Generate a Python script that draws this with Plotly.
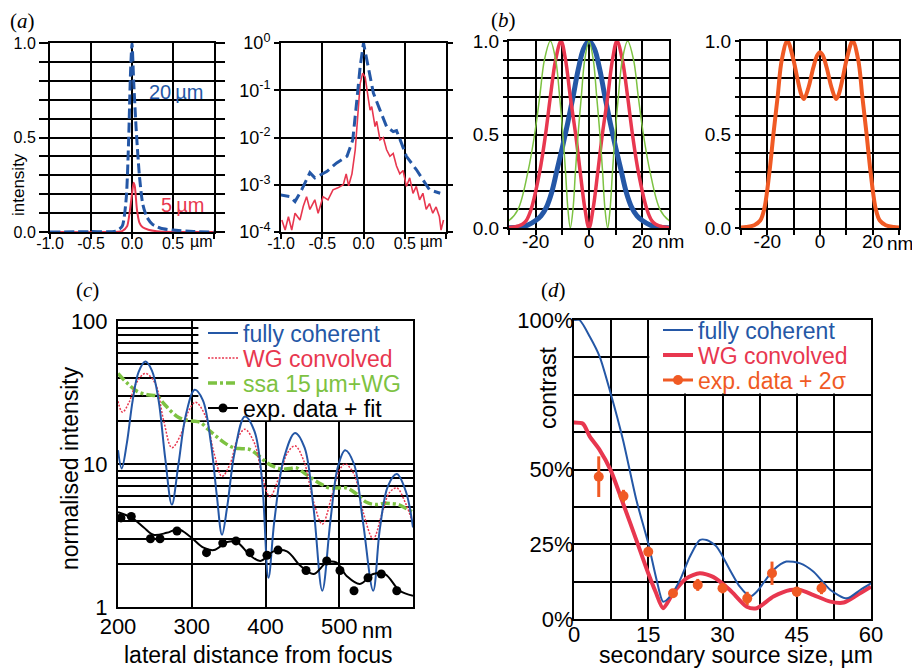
import plotly.graph_objects as go

# ---------------- data ----------------
# (a) left: linear focal profiles, x in µm
a_x_20 = [-1.0, -0.5, -0.2, -0.12, -0.07, -0.04, -0.02, 0.0, 0.02, 0.05, 0.09, 0.13, 0.18, 0.25, 0.35, 0.5, 0.75, 1.0]
a_y_20 = [0.0, 0.002, 0.005, 0.03, 0.18, 0.5, 0.82, 1.0, 0.8, 0.55, 0.3, 0.15, 0.08, 0.04, 0.02, 0.01, 0.003, 0.0]
a_x_5 = [-1.0, -0.3, -0.12, -0.06, -0.03, 0.0, 0.02, 0.035, 0.06, 0.09, 0.13, 0.2, 0.3, 0.5, 1.0]
a_y_5 = [0.0, 0.0, 0.005, 0.03, 0.1, 0.2, 0.26, 0.24, 0.12, 0.05, 0.025, 0.012, 0.004, 0.0, 0.0]

# (a) right: same profiles on log scale
al_x_20 = [-1.03, -0.89, -0.83, -0.75, -0.65, -0.59, -0.446, -0.325, -0.2, -0.13, -0.08, -0.04, 0.0,
           0.06, 0.12, 0.2, 0.28, 0.36, 0.4, 0.46, 0.52, 0.64, 0.72, 0.8, 0.93]
al_y_20 = [6.2e-4, 5.6e-4, 4.4e-4, 7.8e-4, 1.8e-3, 1.4e-3, 1.9e-3, 2.9e-3, 4.0e-3, 8.9e-3, 0.063, 0.32, 1.0,
           0.32, 0.087, 0.038, 0.017, 0.0133, 0.014, 7.6e-3, 4.0e-3, 2.1e-3, 1.3e-3, 7.8e-4, 6.6e-4]
al_x_5 = [-0.99, -0.95, -0.91, -0.87, -0.83, -0.77, -0.73, -0.69, -0.65, -0.59, -0.55, -0.49, -0.43, -0.37,
          -0.31, -0.245, -0.21, -0.18, -0.14, -0.10, -0.07, -0.04, -0.01, 0.02, 0.06, 0.08, 0.10, 0.14,
          0.16, 0.20, 0.24, 0.28, 0.32, 0.36, 0.40, 0.44, 0.48, 0.52, 0.56, 0.60, 0.64, 0.68, 0.72,
          0.76, 0.80, 0.84, 0.88, 0.92, 0.94, 0.97]
al_y_5 = [1.8e-4, 1.1e-4, 2.1e-4, 1.1e-4, 2.5e-4, 1.8e-4, 3.5e-4, 5.6e-4, 3.0e-4, 4.8e-4, 2.5e-4, 5.6e-4,
          4.8e-4, 7.8e-4, 8.6e-4, 1.0e-3, 1.7e-3, 9.5e-4, 1.7e-3, 5.5e-3, 0.028, 0.14, 0.23, 0.19, 0.063,
          0.038, 0.045, 0.017, 0.022, 8.9e-3, 0.010, 5.5e-3, 4.0e-3, 4.6e-3, 2.5e-3, 1.7e-3, 2.0e-3,
          9.2e-4, 1.4e-3, 6.6e-4, 9.2e-4, 4.8e-4, 6.6e-4, 3.0e-4, 4.0e-4, 2.5e-4, 3.4e-4, 2.1e-4,
          1.1e-4, 1.8e-4]

# (b) left: mode profiles, x in nm
b_x_blue = [-35, -26, -23, -20, -18, -16, -14, -12, -10, -8, -6, -4, -2, 0,
            2, 4, 6, 8, 10, 12, 14, 16, 18, 20, 23, 26, 35]
b_y_blue = [0, 0.005, 0.015, 0.04, 0.065, 0.11, 0.19, 0.31, 0.43, 0.56, 0.7, 0.85, 0.96, 1.0,
            0.96, 0.85, 0.7, 0.56, 0.43, 0.31, 0.19, 0.11, 0.065, 0.04, 0.015, 0.005, 0]
b_x_red = [-35, -28, -25, -23.5, -21.7, -18.5, -16.3, -14.5, -12.5, -10.5, -8.8, -7, -5, -3.3, -1.5, 0,
           1.5, 3.3, 5, 7, 8.8, 10.5, 12.5, 14.5, 16.3, 18.5, 21.7, 23.5, 25, 28, 35]
b_y_red = [0, 0.005, 0.02, 0.04, 0.1, 0.3, 0.5, 0.7, 0.9, 1.0, 0.9, 0.7, 0.5, 0.3, 0.1, 0.0,
           0.1, 0.3, 0.5, 0.7, 0.9, 1.0, 0.9, 0.7, 0.5, 0.3, 0.1, 0.04, 0.02, 0.005, 0]
b_x_green = [-35, -30, -26.6, -22.9, -20.4, -18.5, -16.7, -14.5, -12.5, -11, -9.8, -8.8, -7.9, -7.0,
             -6, -5.1, -4.1, -2.9, -1.6, 0, 1.6, 2.9, 4.1, 5.1, 6, 7.0, 7.9, 8.8, 9.8, 11, 12.5, 14.5,
             16.7, 18.5, 20.4, 22.9, 26.6, 30, 35]
b_y_green = [0.01, 0.04, 0.1, 0.3, 0.5, 0.7, 0.9, 1.0, 0.9, 0.7, 0.5, 0.3, 0.1, 0.0,
             0.1, 0.3, 0.5, 0.7, 0.9, 1.0, 0.9, 0.7, 0.5, 0.3, 0.1, 0.0, 0.1, 0.3, 0.5, 0.7, 0.9, 1.0,
             0.9, 0.7, 0.5, 0.3, 0.1, 0.04, 0.01]
# (b) right: superposition
b_x_orange = [-35, -28, -25, -22.7, -21.2, -19.2, -17.7, -16.1, -14.5, -12.4, -10.1, -8.6, -7, -6.1, -4.4,
              -2.5, -1, 0, 1, 2.5, 4.4, 6.1, 7, 8.6, 10.1, 12.4, 14.5, 16.1, 17.7, 19.2, 21.2, 22.7, 25, 28, 35]
b_y_orange = [0, 0.005, 0.015, 0.04, 0.1, 0.3, 0.5, 0.7, 0.9, 1.0, 0.9, 0.8, 0.71, 0.69, 0.75,
              0.86, 0.925, 0.94, 0.925, 0.86, 0.75, 0.69, 0.71, 0.8, 0.9, 1.0, 0.9, 0.7, 0.5, 0.3, 0.1,
              0.04, 0.015, 0.005, 0]

# (c) far-field fringes, x in nm
c_x_coh = [200, 205, 212, 220, 228, 237, 246, 255, 264, 273, 282, 292, 304, 315, 326, 334, 341, 348, 358, 372,
           385, 395, 404, 412, 425, 440, 453, 465, 477, 488, 498, 508, 520, 532, 546, 555, 566, 578, 590, 600]
c_y_coh = [12.5, 9.3, 14, 28, 44, 52, 45, 28, 11, 5.2, 10, 22, 33, 28, 14, 6, 3.2, 5, 12, 21.5,
           17, 8, 1.6, 4, 11, 16.5, 13, 5, 1.3, 4, 9.5, 12.5, 10, 4, 1.3, 3.5, 7, 8.5, 6.5, 3.6]
c_x_wg = [200, 206, 215, 225, 237, 250, 262, 273, 285, 295, 305, 318, 330, 341, 352, 362, 372, 385, 396, 406,
          418, 430, 440, 452, 465, 477, 490, 500, 508, 520, 533, 546, 558, 568, 578, 590, 600]
c_y_wg = [27.5, 23, 27, 37, 43, 37, 20, 13, 16, 23, 27, 22, 12, 8.2, 10, 15, 17.5, 14, 8, 5.9,
          8, 12, 13.4, 10.5, 5.5, 3.8, 6, 9, 10, 8.5, 4.5, 3.0, 4.5, 6.3, 6.8, 5.3, 3.8]
c_x_ssa = [200, 212, 226, 240, 253, 262, 271, 280, 289, 300, 311, 322, 334, 345, 357, 368, 379, 390, 402, 413,
           424, 433, 442, 453, 465, 476, 487, 498, 510, 523, 537, 550, 560, 568, 580, 590, 600]
c_y_ssa = [43, 37, 32.2, 30.5, 29.8, 26.5, 23.6, 21.5, 20.5, 20, 19.6, 17.5, 15.5, 14, 13, 12.8, 12.6, 11.5,
           10.2, 9.5, 9.2, 9.3, 9.4, 8.6, 7.8, 7.2, 6.8, 6.8, 6.8, 6.2, 5.4, 5.2, 5.3, 5.3, 5.2, 4.9, 4.6]
c_x_exp = [204, 218, 244, 257, 280, 320, 342, 360, 379, 402, 417, 455, 483, 501, 520, 539, 557, 578]
c_y_exp = [4.2, 4.3, 3.0, 3.0, 3.4, 2.4, 2.8, 2.9, 2.4, 2.3, 2.5, 1.8, 2.1, 1.8, 1.3, 1.6, 1.7, 1.3]
c_x_fit = [200, 219, 235, 248, 266, 282, 298, 316, 330, 348, 361, 379, 393, 411, 429, 447, 465, 483, 496, 510,
           528, 546, 562, 582, 600]
c_y_fit = [4.6, 4.2, 3.6, 3.2, 3.3, 3.5, 3.1, 2.6, 2.5, 2.85, 2.85, 2.3, 2.1, 2.45, 2.45, 1.95, 1.7, 2.05, 2.05,
           1.65, 1.45, 1.7, 1.7, 1.3, 1.2]
c_xticks = [200, 300, 400, 500]
c_xlabels = ["200", "300", "400", "500"]
c_yticks = [1, 2, 3, 4, 5, 6, 7, 8, 9, 10, 20, 30, 40, 50, 60, 70, 80, 90, 100]
c_ylabels = ["1", "", "", "", "", "", "", "", "", "10", "", "", "", "", "", "", "", "", "100"]

# (d) contrast vs secondary source size (µm), in %
d_x_coh = [0, 1.1, 3.2, 5.2, 7.4, 9.9, 12.6, 15, 16.7, 18, 19.4, 21.4, 23.4, 25.4, 26.8, 28.8, 31.5, 33.5,
           35.6, 36.9, 40.3, 42.9, 45.7, 48.4, 51.8, 55.1, 57.8, 60]
d_y_coh = [100, 100, 94.4, 87.7, 75.5, 59.9, 39.8, 25.3, 13, 5.8, 7.5, 13, 20.8, 26.4, 26.4, 24.2, 16.4, 10.8,
           7.5, 9.1, 16.4, 19.2, 18.6, 15.8, 9.7, 6.9, 9.7, 11.9]
d_x_wg = [0, 1.8, 3.2, 5.2, 7.4, 9.9, 12.6, 15, 16.5, 18, 20, 22.7, 25.4, 28.1, 31.5, 34.9, 36.9, 40.3, 43.7,
          45.7, 48.4, 51.8, 54.5, 57.2, 60]
d_y_wg = [65.7, 65.3, 61, 56.5, 49.8, 38.7, 26.4, 15.3, 9, 3.6, 8.6, 13.6, 15.3, 14.1, 9.7, 4.1, 3.6, 7.5, 9.7,
          9.7, 8, 5.8, 5.5, 8, 10.8]
d_x_exp = [5, 10, 15, 20, 25, 30, 35, 40, 45, 50]
d_y_exp = [47.6, 41.1, 22.5, 8.6, 11.4, 10.3, 6.9, 15.3, 9.1, 10.3]
d_err = [6.8, 2.1, 1.7, 1.4, 2.0, 1.7, 2.2, 3.9, 1.7, 2.0]
d_yticks = [0, 12.5, 25, 37.5, 50, 62.5, 75, 87.5, 100]
d_ylabels = ["0%", "", "25%", "", "50%", "", "", "", "100%"]
d_xticks = [0, 7.5, 15, 22.5, 30, 37.5, 45, 52.5, 60]
d_xlabels = ["0", "", "15", "", "30", "", "45", "", "60"]

lin_ticks = [0, 0.1, 0.2, 0.3, 0.4, 0.5, 0.6, 0.7, 0.8, 0.9, 1.0]
lin_labels = ["0.0", "", "", "", "", "0.5", "", "", "", "", "1.0"]
a_xticks = [-1, -0.5, 0, 0.5, 1]
a_xlabels = ["-1.0", "-0.5", "0.0", "0.5", ""]
b_xticks = [-30, -20, -10, 0, 10, 20, 30]
b_xlabels = ["", "-20", "", "0", "", "20", ""]

# ---------------- styling ----------------
BLUE = "#2457a6"
RED = "#e8374f"
GREEN = "#7dc242"
ORANGE = "#f05a24"
FONT = "Liberation Sans, Arial, sans-serif"
SERIF = "Liberation Serif, Times New Roman, serif"
OFF = 8                      # page body margin of the html page
W, H = 920 - OFF, 668 - OFF  # figure size so it fits the window

# white panels behind the legends (x-range, y-range in axis units)
C_LEG_BOX = ([309, 600], [20.2, 100])
D_LEG_BOX = ([15.2, 60], [75.4, 100])


def xd(a, b):
    return [(a - OFF) / W, (b - OFF) / W]


def yd(top, bottom):
    return [1 - (bottom - OFF) / H, 1 - (top - OFF) / H]


def white_box(box, xa, ya):
    (x0, x1), (y0, y1) = box
    return go.Scatter(x=[x0, x1, x1, x0, x0], y=[y0, y0, y1, y1, y0], mode="lines", fill="toself",
                      fillcolor="white", line=dict(width=0, color="white"), xaxis=xa, yaxis=ya,
                      showlegend=False, hoverinfo="skip")


fig = go.Figure()

# (a) left
fig.add_trace(go.Scatter(x=a_x_5, y=a_y_5, mode="lines", line=dict(color=RED, width=2, shape="spline", smoothing=0.6),
                         xaxis="x", yaxis="y", showlegend=False))
fig.add_trace(go.Scatter(x=a_x_20, y=a_y_20, mode="lines",
                         line=dict(color=BLUE, width=3, dash="10px,4px", shape="spline", smoothing=0.6),
                         xaxis="x", yaxis="y", showlegend=False))
# (a) right
fig.add_trace(go.Scatter(x=al_x_5, y=al_y_5, mode="lines", line=dict(color=RED, width=1.6),
                         xaxis="x2", yaxis="y2", showlegend=False))
fig.add_trace(go.Scatter(x=al_x_20, y=al_y_20, mode="lines", line=dict(color=BLUE, width=3, dash="11px,5px"),
                         xaxis="x2", yaxis="y2", showlegend=False))
# (b) left
fig.add_trace(go.Scatter(x=b_x_blue, y=b_y_blue, mode="lines", line=dict(color=BLUE, width=5, shape="spline"),
                         xaxis="x3", yaxis="y3", showlegend=False))
fig.add_trace(go.Scatter(x=b_x_red, y=b_y_red, mode="lines", line=dict(color=RED, width=3.5, shape="spline"),
                         xaxis="x3", yaxis="y3", showlegend=False))
fig.add_trace(go.Scatter(x=b_x_green, y=b_y_green, mode="lines", line=dict(color=GREEN, width=1.5, shape="spline"),
                         xaxis="x3", yaxis="y3", showlegend=False))
# (b) right
fig.add_trace(go.Scatter(x=b_x_orange, y=b_y_orange, mode="lines", line=dict(color=ORANGE, width=4, shape="spline"),
                         xaxis="x4", yaxis="y4", showlegend=False))

# (c)
fig.add_trace(white_box(C_LEG_BOX, "x5", "y5"))
fig.add_trace(go.Scatter(x=c_x_ssa, y=c_y_ssa, mode="lines", name="ssa 15\u2009µm+WG", legend="legend3",
                         line=dict(color=GREEN, width=3.5, dash="9px,3px,3px,3px", shape="spline"),
                         xaxis="x5", yaxis="y5"))
fig.add_trace(go.Scatter(x=c_x_wg, y=c_y_wg, mode="lines", name="WG convolved", legend="legend2",
                         line=dict(color=RED, width=1.5, dash="2px,1.5px", shape="spline"),
                         xaxis="x5", yaxis="y5"))
fig.add_trace(go.Scatter(x=c_x_coh, y=c_y_coh, mode="lines", name="fully coherent", legend="legend",
                         line=dict(color=BLUE, width=2, shape="spline"),
                         xaxis="x5", yaxis="y5"))
fig.add_trace(go.Scatter(x=c_x_fit, y=c_y_fit, mode="lines", line=dict(color="black", width=2, shape="spline"),
                         xaxis="x5", yaxis="y5", showlegend=False))
fig.add_trace(go.Scatter(x=c_x_exp, y=c_y_exp, mode="markers", marker=dict(color="black", size=9),
                         xaxis="x5", yaxis="y5", showlegend=False))
fig.add_trace(go.Scatter(x=[None], y=[None], mode="lines+markers", name="exp. data + fit", legend="legend4",
                         line=dict(color="black", width=2), marker=dict(color="black", size=9),
                         xaxis="x5", yaxis="y5"))

# (d)
fig.add_trace(white_box(D_LEG_BOX, "x6", "y6"))
fig.add_trace(go.Scatter(x=d_x_wg, y=d_y_wg, mode="lines", name="WG convolved", legend="legend6",
                         line=dict(color=RED, width=4, shape="spline", smoothing=0.7),
                         xaxis="x6", yaxis="y6"))
fig.add_trace(go.Scatter(x=d_x_coh, y=d_y_coh, mode="lines", name="fully coherent", legend="legend5",
                         line=dict(color=BLUE, width=2, shape="spline", smoothing=0.7),
                         xaxis="x6", yaxis="y6"))
fig.add_trace(go.Scatter(x=d_x_exp, y=d_y_exp, mode="markers", marker=dict(color=ORANGE, size=10),
                         error_y=dict(type="data", array=d_err, color=ORANGE, thickness=3, width=0),
                         xaxis="x6", yaxis="y6", showlegend=False))
fig.add_trace(go.Scatter(x=[None], y=[None], mode="lines+markers", name="exp. data + 2σ", legend="legend7",
                         line=dict(color=ORANGE, width=3), marker=dict(color=ORANGE, size=10),
                         xaxis="x6", yaxis="y6"))

# ---------------- axes ----------------
base = dict(showgrid=True, gridcolor="black", zeroline=False, showline=True, linecolor="black",
            tickcolor="black", fixedrange=True, automargin=False)


def ax(**kw):
    d = dict(base)
    d.update(kw)
    return d


a_x = dict(range=[-1, 1], tickmode="array", tickvals=a_xticks, ticktext=a_xlabels, gridwidth=2, linewidth=2,
           ticks="outside", ticklen=5, tickwidth=2, mirror=True,
           tickfont=dict(family=FONT, size=16, color="black"), ticklabelstandoff=-9)
b_x = dict(range=[-30, 30], tickmode="array", tickvals=b_xticks, ticktext=b_xlabels, gridwidth=2, linewidth=2,
           ticks="outside", ticklen=5, tickwidth=2, mirror=True,
           tickfont=dict(family=FONT, size=19, color="black"), ticklabelstandoff=-10)
b_y = dict(range=[0, 1], tickmode="array", tickvals=lin_ticks, ticktext=lin_labels, gridwidth=2, linewidth=2,
           ticks="outside", ticklen=4, tickwidth=2, mirror=True,
           tickfont=dict(family=FONT, size=19, color="black"))

fig.update_layout(
    xaxis=ax(domain=xd(50, 214), anchor="y", **a_x),
    yaxis=ax(domain=yd(43, 232), anchor="x", range=[0, 1], tickmode="array", tickvals=lin_ticks,
             ticktext=lin_labels, gridwidth=2, linewidth=2, ticks="outside", ticklen=9, tickwidth=2,
             mirror="ticks", tickfont=dict(family=FONT, size=16, color="black")),
    xaxis2=ax(domain=xd(281, 446), anchor="y2", **a_x),
    yaxis2=ax(domain=yd(43, 232), anchor="x2", type="log", range=[-4, 0], tickmode="array",
              tickvals=[1e-4, 1e-3, 1e-2, 1e-1, 1],
              ticktext=["10<sup>-4</sup>", "10<sup>-3</sup>", "10<sup>-2</sup>", "10<sup>-1</sup>", "10<sup>0</sup>"],
              gridwidth=2, linewidth=2, ticks="outside", ticklen=5, tickwidth=2, mirror="ticks",
              tickfont=dict(family=FONT, size=18, color="black")),
    xaxis3=ax(domain=xd(509, 669), anchor="y3", **b_x),
    yaxis3=ax(domain=yd(41, 228), anchor="x3", **b_y),
    xaxis4=ax(domain=xd(741, 899), anchor="y4", **b_x),
    yaxis4=ax(domain=yd(41, 228), anchor="x4", **b_y),
    xaxis5=ax(domain=xd(118, 413), anchor="y5", range=[200, 600], tickmode="array",
              tickvals=c_xticks, ticktext=c_xlabels, gridwidth=1.5, linewidth=2,
              mirror=True, ticks="", tickfont=dict(family=FONT, size=22, color="black"), ticklabelstandoff=-1),
    yaxis5=ax(domain=yd(321, 607), anchor="x5", type="log", range=[0, 2], tickmode="array",
              tickvals=c_yticks, ticktext=c_ylabels, gridwidth=1.5, linewidth=2, mirror=True, ticks="",
              tickfont=dict(family=FONT, size=22, color="black"), ticklabelstandoff=4),
    xaxis6=ax(domain=xd(574, 871), anchor="y6", range=[0, 60], tickmode="array", tickvals=d_xticks,
              ticktext=d_xlabels, gridwidth=1.5, linewidth=2, mirror=True, ticks="",
              tickfont=dict(family=FONT, size=22, color="black"), ticklabelstandoff=-5),
    yaxis6=ax(domain=yd(320, 619), anchor="x6", range=[0, 100], tickmode="array", tickvals=d_yticks,
              ticktext=d_ylabels, gridwidth=1.5, linewidth=2, mirror=True, ticks="",
              tickfont=dict(family=FONT, size=22, color="black"), ticklabelstandoff=-6),
)


def leg(xp, yp, color):
    return dict(x=(xp - OFF) / W, y=1 - (yp - OFF) / H, xanchor="left", yanchor="middle",
                bgcolor="rgba(0,0,0,0)", borderwidth=0, font=dict(family=FONT, size=23, color=color),
                itemwidth=30, tracegroupgap=0)


fig.update_layout(
    legend=leg(203, 333, BLUE), legend2=leg(203, 358, RED), legend3=leg(203, 383, GREEN),
    legend4=leg(203, 408, "black"),
    legend5=leg(658, 330, BLUE), legend6=leg(658, 355, RED), legend7=leg(658, 380, ORANGE),
)


def ann(text, xp, yp, size, color="black", angle=0, family=FONT, xanchor="center"):
    fig.add_annotation(text=text, x=(xp - OFF) / W, y=1 - (yp - OFF) / H, xref="paper", yref="paper",
                       showarrow=False, font=dict(family=family, size=size, color=color), textangle=angle,
                       xanchor=xanchor, yanchor="middle")


ann("(<i>a</i>)", 22, 21, 21, family=SERIF)
ann("(<i>b</i>)", 503, 20, 21, family=SERIF)
ann("(<i>c</i>)", 87, 290, 21, family=SERIF)
ann("(<i>d</i>)", 553, 290, 21, family=SERIF)
ann("intensity", 18, 185, 17, angle=-90)
ann("20\u2009µm", 176, 92, 20, color=BLUE)
ann("5\u2009µm", 182, 205, 20, color=RED)
ann("µm", 201, 242, 16)
ann("µm", 431, 242, 16)
ann("nm", 671, 241, 19)
ann("nm", 900, 243, 19)
ann("nm", 377, 630, 22)
ann("lateral distance from focus", 258, 655, 23)
ann("normalised intensity", 70, 468, 23, angle=-90)
ann("secondary source size, µm", 736, 655, 23)
ann("contrast", 548, 388, 23, angle=-90)

fig.update_layout(width=W, height=H, margin=dict(l=0, r=0, t=0, b=0, autoexpand=False), paper_bgcolor="white",
                  plot_bgcolor="white", font=dict(family=FONT, color="black"))

fig.write_html("out.html")
